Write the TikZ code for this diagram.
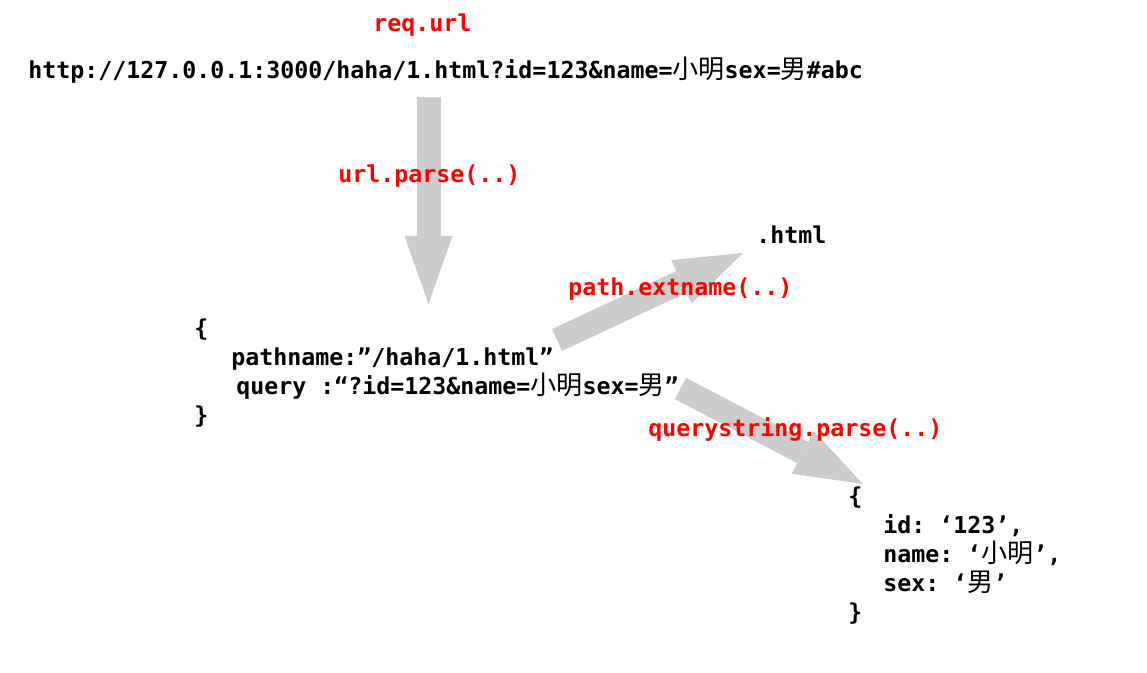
\documentclass[tikz,border=0pt]{standalone}
\usepackage{fontspec}
\setmonofont{DejaVu Sans Mono}
\newfontfamily\cjk[Scale=1.12]{Noto Sans CJK SC}
\usetikzlibrary{arrows.meta,backgrounds}
\definecolor{arrowgray}{RGB}{204,204,204}
\newcommand{\zh}[1]{{\cjk\mdseries #1}}
\newcommand{\codeline}[5][black]{%
\node[code,text=#1] (#4) at (#2,#3) {#5};
}
\newcommand{\bigarrow}[2]{%
\draw[bigarrow] (#1) -- (#2);
}
\tikzset{
code/.style={anchor=base west, inner sep=0pt, font=\ttfamily\bfseries\fontsize{17.45}{20}\selectfont},
bigarrow/.style={draw=arrowgray, line width=18pt, -{Triangle[width=36pt,length=51pt,line width=0pt]}}
}

\begin{document}
\begin{tikzpicture}[x=0.75pt,y=-0.75pt]
\useasboundingbox (0,0) rectangle (1147,673);

\codeline[red]{373}{32}{requrl}{req.url}
\codeline{28}{79}{fullurl}{http://127.0.0.1:3000/haha/1.html?id=123\&name=\zh{小明}sex=\zh{男}\#abc}

\codeline[red]{338}{183}{urlparse}{url.parse(..)}

\codeline{756}{244}{extresult}{.html}
\codeline[red]{568}{296}{extname}{path.extname(..)}

\codeline{194}{337}{objopen}{\{}
\codeline{231}{366}{pathline}{pathname:”/haha/1.html”}
\codeline{236}{395}{queryline}{query :“?id=123\&name=\zh{小明}sex=\zh{男}”}
\codeline{194}{424}{objclose}{\}}

\codeline[red]{648}{437}{qsparse}{querystring.parse(..)}

\codeline{848}{505}{resopen}{\{}
\codeline{883}{534}{resid}{id: ‘123’,}
\codeline{883}{563}{resname}{name: ‘\zh{小明}’,}
\codeline{883}{592}{ressex}{sex: ‘\zh{男}’}
\codeline{848}{621}{resclose}{\}}

\coordinate (parsefrom) at (428.5,97);
\coordinate (parseto) at (428.5,304);
\coordinate (extfrom) at (557,340);
\coordinate (extto) at (743,253);
\coordinate (qsfrom) at (680.5,388.5);
\coordinate (qsto) at (863,484);

\begin{pgfonlayer}{background}
\bigarrow{parsefrom}{parseto}
\bigarrow{extfrom}{extto}
\bigarrow{qsfrom}{qsto}
\end{pgfonlayer}

\end{tikzpicture}
\end{document}
